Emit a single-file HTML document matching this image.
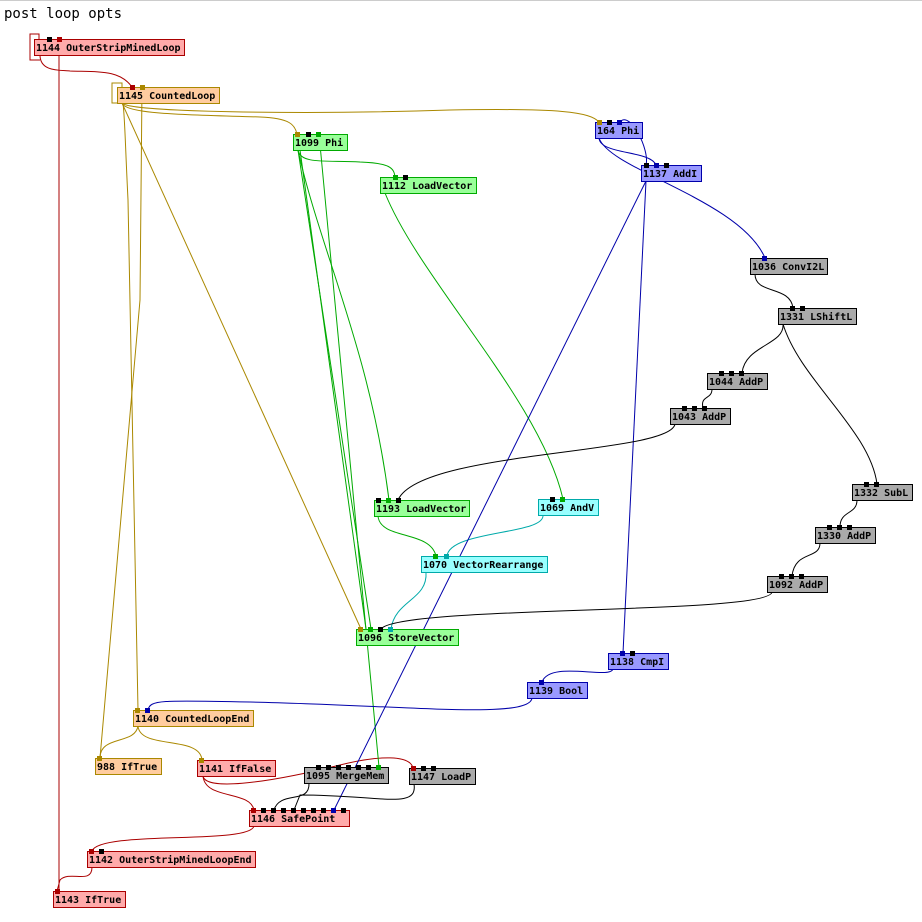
<!DOCTYPE html>
<html><head><meta charset="utf-8"><style>
html,body{margin:0;padding:0;background:#fff;width:922px;height:922px;overflow:hidden}
svg{display:block}
text{font-family:"DejaVu Sans Mono","Liberation Mono",monospace;font-size:10px;font-weight:bold;fill:#000}
.t{font-size:14px;font-weight:normal}
path{fill:none;stroke-width:1}
.r{stroke:#aa0000}.g{stroke:#aa8800}.gr{stroke:#00aa00}.c{stroke:#00aaaa}.b{stroke:#0000aa}.k{stroke:#000}
</style></head><body>
<svg width="922" height="922" viewBox="0 0 922 922">
<line x1="0" y1="0.5" x2="922" y2="0.5" stroke="#ccc"/>
<text class="t" x="4" y="18">post loop opts</text>
<g>
<path class="r" d="M39,39 L39,34 L30,34 L30,60 L40,60"/>
<path class="r" d="M40,55 C40,72 60,70 70,71 C100,72 120,70 132,87"/>
<path class="r" d="M59,40 L59,891"/>
<path class="r" d="M92,867 C92,885 70,870 60,880 L57,891"/>
<path class="r" d="M254,826 C250,845 100,830 92,851"/>
<path class="r" d="M203,776 C205,800 250,790 254,810"/>
<path class="r" d="M203,776 C205,790 260,785 340,765 C380,755 410,755 413,768"/>
<path class="g" d="M122,103 L112,103 L112,83 L122,83 L122,87"/>
<path class="g" d="M122,103 C125,115 200,115 260,117 C290,118 295,125 297,134"/>
<path class="g" d="M122,103 C128,112 300,115 450,110 C560,108 590,112 599,122"/>
<path class="g" d="M122,103 L361,629"/>
<path class="g" d="M123,103 C125,120 125,140 128,200 L138,710"/>
<path class="g" d="M142,87 L140,300 L100,758"/>
<path class="g" d="M138,726 C135,745 100,735 100,758"/>
<path class="g" d="M138,726 C140,750 200,735 202,760"/>
<path class="gr" d="M298,150 C300,165 330,160 360,162 C390,163 394,168 395,177"/>
<path class="gr" d="M298,150 C320,250 370,350 389,500"/>
<path class="gr" d="M298,150 L371,629"/>
<path class="gr" d="M300,150 L366,629"/>
<path class="gr" d="M319,134 L379,767"/>
<path class="gr" d="M385,193 C420,280 540,400 563,499"/>
<path class="gr" d="M378,516 C380,540 430,530 436,556"/>
<path class="c" d="M543,515 C545,535 450,530 447,556"/>
<path class="c" d="M426,572 C428,600 395,600 391,629"/>
<path class="b" d="M599,138 C600,155 650,150 656,165"/>
<path class="b" d="M646,165 C650,150 630,110 620,122"/>
<path class="b" d="M599,138 C610,170 740,200 765,258"/>
<path class="b" d="M646,181 L623,653"/>
<path class="b" d="M646,181 L334,810"/>
<path class="b" d="M613,669 C610,680 550,660 542,682"/>
<path class="b" d="M532,698 C530,720 400,705 250,702 C160,700 150,700 148,710"/>
<path class="k" d="M755,274 C755,295 790,285 793,308"/>
<path class="k" d="M783,324 C785,345 745,345 742,373"/>
<path class="k" d="M783,324 C800,380 870,430 877,484"/>
<path class="k" d="M712,389 C712,400 700,395 703,408"/>
<path class="k" d="M675,424 C670,455 420,450 398,500"/>
<path class="k" d="M857,500 C857,515 840,510 840,527"/>
<path class="k" d="M820,543 C820,560 795,550 792,576"/>
<path class="k" d="M772,592 C770,615 400,605 381,629"/>
<path class="k" d="M309,783 C310,805 280,790 274,810"/>
<path class="k" d="M414,784 C418,810 380,795 300,795 L294,810"/>
</g>
<g stroke-width="1">
<rect x="34.5" y="39.5" width="150" height="16" fill="#ffaaaa" stroke="#aa0000"/><text x="36" y="51">1144 OuterStripMinedLoop</text>
<rect x="117.5" y="87.5" width="102" height="16" fill="#ffcc9f" stroke="#aa8800"/><text x="119" y="99">1145 CountedLoop</text>
<rect x="293.5" y="134.5" width="54" height="16" fill="#99ff99" stroke="#00aa00"/><text x="295" y="146">1099 Phi</text>
<rect x="380.5" y="177.5" width="96" height="16" fill="#99ff99" stroke="#00aa00"/><text x="382" y="189">1112 LoadVector</text>
<rect x="595.5" y="122.5" width="47" height="16" fill="#9999ff" stroke="#0000aa"/><text x="597" y="134">164 Phi</text>
<rect x="641.5" y="165.5" width="60" height="16" fill="#9999ff" stroke="#0000aa"/><text x="643" y="177">1137 AddI</text>
<rect x="750.5" y="258.5" width="77" height="16" fill="#aaaaaa" stroke="#000"/><text x="752" y="270">1036 ConvI2L</text>
<rect x="778.5" y="308.5" width="78" height="16" fill="#aaaaaa" stroke="#000"/><text x="780" y="320">1331 LShiftL</text>
<rect x="707.5" y="373.5" width="60" height="16" fill="#aaaaaa" stroke="#000"/><text x="709" y="385">1044 AddP</text>
<rect x="670.5" y="408.5" width="60" height="16" fill="#aaaaaa" stroke="#000"/><text x="672" y="420">1043 AddP</text>
<rect x="852.5" y="484.5" width="60" height="16" fill="#aaaaaa" stroke="#000"/><text x="854" y="496">1332 SubL</text>
<rect x="815.5" y="527.5" width="60" height="16" fill="#aaaaaa" stroke="#000"/><text x="817" y="539">1330 AddP</text>
<rect x="767.5" y="576.5" width="60" height="16" fill="#aaaaaa" stroke="#000"/><text x="769" y="588">1092 AddP</text>
<rect x="374.5" y="500.5" width="95" height="16" fill="#99ff99" stroke="#00aa00"/><text x="376" y="512">1193 LoadVector</text>
<rect x="538.5" y="499.5" width="60" height="16" fill="#99ffff" stroke="#00aaaa"/><text x="540" y="511">1069 AndV</text>
<rect x="421.5" y="556.5" width="126" height="16" fill="#99ffff" stroke="#00aaaa"/><text x="423" y="568">1070 VectorRearrange</text>
<rect x="356.5" y="629.5" width="102" height="16" fill="#99ff99" stroke="#00aa00"/><text x="358" y="641">1096 StoreVector</text>
<rect x="608.5" y="653.5" width="60" height="16" fill="#9999ff" stroke="#0000aa"/><text x="610" y="665">1138 CmpI</text>
<rect x="527.5" y="682.5" width="60" height="16" fill="#9999ff" stroke="#0000aa"/><text x="529" y="694">1139 Bool</text>
<rect x="133.5" y="710.5" width="120" height="16" fill="#ffcc9f" stroke="#aa8800"/><text x="135" y="722">1140 CountedLoopEnd</text>
<rect x="95.5" y="758.5" width="66" height="16" fill="#ffcc9f" stroke="#aa8800"/><text x="97" y="770">988 IfTrue</text>
<rect x="197.5" y="760.5" width="78" height="16" fill="#ffaaaa" stroke="#aa0000"/><text x="199" y="772">1141 IfFalse</text>
<rect x="304.5" y="767.5" width="84" height="16" fill="#aaaaaa" stroke="#000"/><text x="306" y="779">1095 MergeMem</text>
<rect x="409.5" y="768.5" width="66" height="16" fill="#aaaaaa" stroke="#000"/><text x="411" y="780">1147 LoadP</text>
<rect x="249.5" y="810.5" width="100" height="16" fill="#ffaaaa" stroke="#aa0000"/><text x="251" y="822">1146 SafePoint</text>
<rect x="87.5" y="851.5" width="168" height="16" fill="#ffaaaa" stroke="#aa0000"/><text x="89" y="863">1142 OuterStripMinedLoopEnd</text>
<rect x="53.5" y="891.5" width="72" height="16" fill="#ffaaaa" stroke="#aa0000"/><text x="55" y="903">1143 IfTrue</text>
</g>
<g>
<rect x="47" y="37" width="5" height="5" fill="#000"/><rect x="57" y="37" width="5" height="5" fill="#aa0000"/>
<rect x="130" y="85" width="5" height="5" fill="#aa0000"/><rect x="140" y="85" width="5" height="5" fill="#aa8800"/>
<rect x="295" y="132" width="5" height="5" fill="#aa8800"/><rect x="306" y="132" width="5" height="5" fill="#000"/><rect x="316" y="132" width="5" height="5" fill="#00aa00"/>
<rect x="393" y="175" width="5" height="5" fill="#00aa00"/><rect x="403" y="175" width="5" height="5" fill="#000"/>
<rect x="597" y="120" width="5" height="5" fill="#aa8800"/><rect x="607" y="120" width="5" height="5" fill="#000"/><rect x="617" y="120" width="5" height="5" fill="#0000aa"/>
<rect x="644" y="163" width="5" height="5" fill="#000"/><rect x="654" y="163" width="5" height="5" fill="#0000aa"/><rect x="664" y="163" width="5" height="5" fill="#000"/>
<rect x="762" y="256" width="5" height="5" fill="#0000aa"/>
<rect x="790" y="306" width="5" height="5" fill="#000"/><rect x="800" y="306" width="5" height="5" fill="#000"/>
<rect x="719" y="371" width="5" height="5" fill="#000"/><rect x="729" y="371" width="5" height="5" fill="#000"/><rect x="739" y="371" width="5" height="5" fill="#000"/>
<rect x="682" y="406" width="5" height="5" fill="#000"/><rect x="692" y="406" width="5" height="5" fill="#000"/><rect x="702" y="406" width="5" height="5" fill="#000"/>
<rect x="864" y="482" width="5" height="5" fill="#000"/><rect x="874" y="482" width="5" height="5" fill="#000"/>
<rect x="827" y="525" width="5" height="5" fill="#000"/><rect x="837" y="525" width="5" height="5" fill="#000"/><rect x="847" y="525" width="5" height="5" fill="#000"/>
<rect x="779" y="574" width="5" height="5" fill="#000"/><rect x="789" y="574" width="5" height="5" fill="#000"/><rect x="799" y="574" width="5" height="5" fill="#000"/>
<rect x="376" y="498" width="5" height="5" fill="#000"/><rect x="386" y="498" width="5" height="5" fill="#00aa00"/><rect x="396" y="498" width="5" height="5" fill="#000"/>
<rect x="550" y="497" width="5" height="5" fill="#000"/><rect x="560" y="497" width="5" height="5" fill="#00aa00"/>
<rect x="433" y="554" width="5" height="5" fill="#00aa00"/><rect x="444" y="554" width="5" height="5" fill="#00aaaa"/>
<rect x="358" y="627" width="5" height="5" fill="#aa8800"/><rect x="368" y="627" width="5" height="5" fill="#00aa00"/><rect x="378" y="627" width="5" height="5" fill="#000"/><rect x="388" y="627" width="5" height="5" fill="#00aaaa"/>
<rect x="620" y="651" width="5" height="5" fill="#0000aa"/><rect x="630" y="651" width="5" height="5" fill="#000"/>
<rect x="539" y="680" width="5" height="5" fill="#0000aa"/>
<rect x="135" y="708" width="5" height="5" fill="#aa8800"/><rect x="145" y="708" width="5" height="5" fill="#0000aa"/>
<rect x="97" y="756" width="5" height="5" fill="#aa8800"/>
<rect x="199" y="758" width="5" height="5" fill="#aa8800"/>
<rect x="316" y="765" width="5" height="5" fill="#000"/><rect x="326" y="765" width="5" height="5" fill="#000"/><rect x="336" y="765" width="5" height="5" fill="#000"/><rect x="346" y="765" width="5" height="5" fill="#000"/><rect x="356" y="765" width="5" height="5" fill="#000"/><rect x="366" y="765" width="5" height="5" fill="#000"/><rect x="376" y="765" width="5" height="5" fill="#00aa00"/>
<rect x="411" y="766" width="5" height="5" fill="#aa0000"/><rect x="421" y="766" width="5" height="5" fill="#000"/><rect x="431" y="766" width="5" height="5" fill="#000"/>
<rect x="251" y="808" width="5" height="5" fill="#aa0000"/><rect x="261" y="808" width="5" height="5" fill="#000"/><rect x="271" y="808" width="5" height="5" fill="#000"/><rect x="281" y="808" width="5" height="5" fill="#000"/><rect x="291" y="808" width="5" height="5" fill="#000"/><rect x="301" y="808" width="5" height="5" fill="#000"/><rect x="311" y="808" width="5" height="5" fill="#000"/><rect x="321" y="808" width="5" height="5" fill="#000"/><rect x="331" y="808" width="5" height="5" fill="#0000aa"/><rect x="341" y="808" width="5" height="5" fill="#000"/>
<rect x="89" y="849" width="5" height="5" fill="#aa0000"/><rect x="99" y="849" width="5" height="5" fill="#000"/>
<rect x="55" y="889" width="5" height="5" fill="#aa0000"/>
</g>
</svg>
</body></html>
